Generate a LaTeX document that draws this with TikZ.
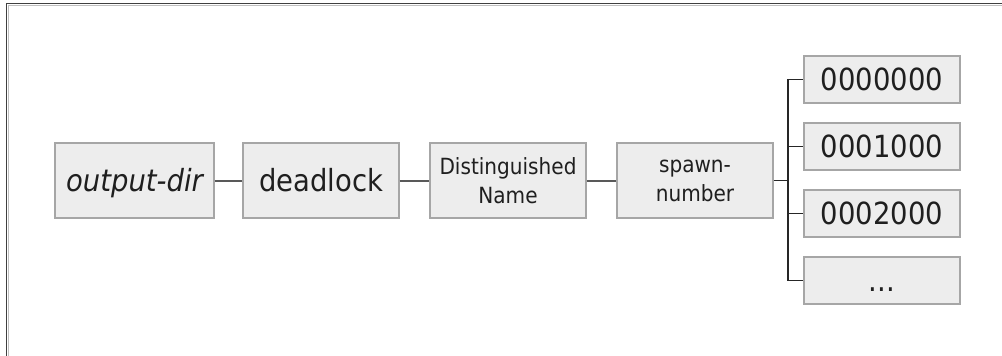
\documentclass[tikz,border=0pt]{standalone}
\usepackage{fontspec}
\setmainfont[FakeStretch=0.9]{DejaVu Sans}
\begin{document}
\begin{tikzpicture}[x=1pt,y=-1pt,
  box/.style={draw=black!35, line width=1.1pt, fill=black!7, inner sep=0pt,
    minimum width=156pt, minimum height=75pt, text=black!88, align=center},
  big/.style={font=\fontsize{30.5}{36}\selectfont, text height=22pt, text depth=0pt},
  small/.style={font=\fontsize{22.3}{29}\selectfont},
  leaf/.style={box, big, minimum height=47pt},
  link/.style={draw=black!65, line width=2pt},
  bus/.style={draw=black!85, line width=1.3pt},
  frame/.style={draw=black!75, line width=1.6pt}]
\useasboundingbox (0,0) rectangle (1002,356);
% frame (only top and left edges visible)
\draw[draw=black!25, line width=1pt] (8.5,356) -- (8.5,5.5) -- (1002,5.5);
\draw[frame] (6.5,356) -- (6.5,3.5) -- (1002,3.5);
% main chain
\node[box, big, minimum width=159pt] (A) at (134.5,180.5) {\itshape output-dir};
\node[box, big] (B) at (321,180.5) {deadlock};
\node[box, small] (C) at (508,180.5) {Distinguished\\Name};
\node[box, small] (D) at (695,180.5) {spawn-\\number};
% leaves
\node[leaf] (E1) at (882,79.5) {0000000};
\node[leaf] (E2) at (882,146.5) {0001000};
\node[leaf] (E3) at (882,213.5) {0002000};
\node[leaf] (E4) at (882,280.5) {...};
\coordinate (bus) at (788,180.5);
% connectors
\draw[link] (A) -- (B);
\draw[link] (B) -- (C);
\draw[link] (C) -- (D);
\draw[bus] (D.east) -- (bus);
\draw[bus] (bus) |- (E1.west);
\draw[bus] (bus) |- (E2.west);
\draw[bus] (bus) |- (E3.west);
\draw[bus] (bus) |- (E4.west);
\end{tikzpicture}
\end{document}
